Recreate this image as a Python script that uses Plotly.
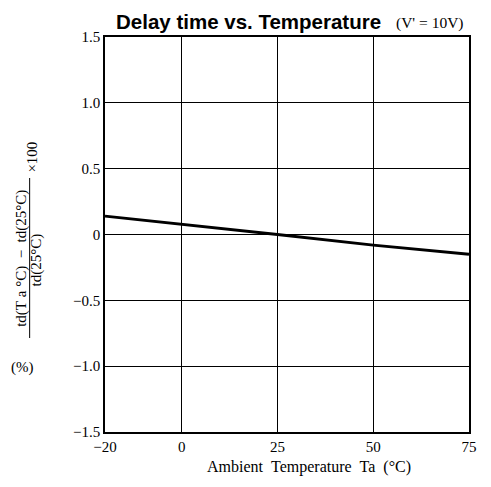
import plotly.graph_objects as go

# Data
temperature = [-20, 0, 25, 50, 75]
delay_change = [0.14, 0.08, 0.0, -0.08, -0.15]

x_ticks = [-20, 0, 25, 50, 75]
x_tick_labels = ["−20", "0", "25", "50", "75"]
y_ticks = [-1.5, -1.0, -0.5, 0, 0.5, 1.0, 1.5]
y_tick_labels = ["−1.5", "−1.0", "−0.5", "0", "0.5", "1.0", "1.5"]

# page has an 8px body margin; figure is laid out in page coordinates minus offset
OFF = 8
W, H = 475, 471
PL, PR, PT, PB = 105, 477, 37, 432   # plot area in page pixels
L, R, T, B = PL - OFF, W - (PR - OFF), PT - OFF, H - (PB - OFF)
pw, ph = W - L - R, H - T - B

def px(x):
    return (x - OFF - L) / pw

def py(y):
    return (H - B - (y - OFF)) / ph

serif = "Liberation Serif, Times New Roman, serif"
sans = "Liberation Sans, Arial, sans-serif"
NB = "\u00a0"

fig = go.Figure()
fig.add_trace(go.Scatter(x=temperature, y=delay_change, mode="lines",
                         line=dict(color="black", width=2.8), showlegend=False,
                         hoverinfo="skip"))

axis_common = dict(showline=True, linecolor="black", linewidth=1.5, mirror=True,
                   showgrid=True, gridcolor="black", gridwidth=1, zeroline=False,
                   ticks="", tickfont=dict(family=serif, size=15, color="black"))

fig.update_xaxes(range=[-20, 75], tickvals=x_ticks, ticktext=x_tick_labels, **axis_common)
fig.update_yaxes(range=[-1.5, 1.5], tickvals=y_ticks, ticktext=y_tick_labels, **axis_common)

def ann(text, x, y, size, family=serif, angle=0):
    return dict(text=text, x=px(x), y=py(y), xref="paper", yref="paper",
                showarrow=False, textangle=angle, borderpad=0,
                font=dict(family=family, size=size, color="black"),
                xanchor="center", yanchor="middle")

annotations = [
    ann("<b>Delay time vs. Temperature</b>", 252, 21, 20.5, family=sans),
    ann("(V'" + NB + "=" + NB + "10V)", 437, 23, 15.5),
    ann("td(T" + NB + "a" + NB + "°C)" + NB + NB + "−" + NB + NB + "td(25°C)", 19, 258, 15, angle=-90),
    ann("td(25°C)", 34, 260, 15, angle=-90),
    ann("×100", 30, 157, 15, angle=-90),
    ann("(%)", 21, 367, 15),
    ann("Ambient" + NB + NB + "Temperature" + NB + NB + "Ta" + NB + NB + "(°C)", 313, 467, 16),
]

shapes = [
    dict(type="line", xref="paper", yref="paper", x0=px(28), x1=px(28), y0=py(178), y1=py(338),
         line=dict(color="black", width=1)),
]

fig.update_layout(width=W, height=H, margin=dict(l=L, r=R, t=T, b=B),
                  plot_bgcolor="white", paper_bgcolor="white",
                  annotations=annotations, shapes=shapes)

fig.write_html("out.html")
